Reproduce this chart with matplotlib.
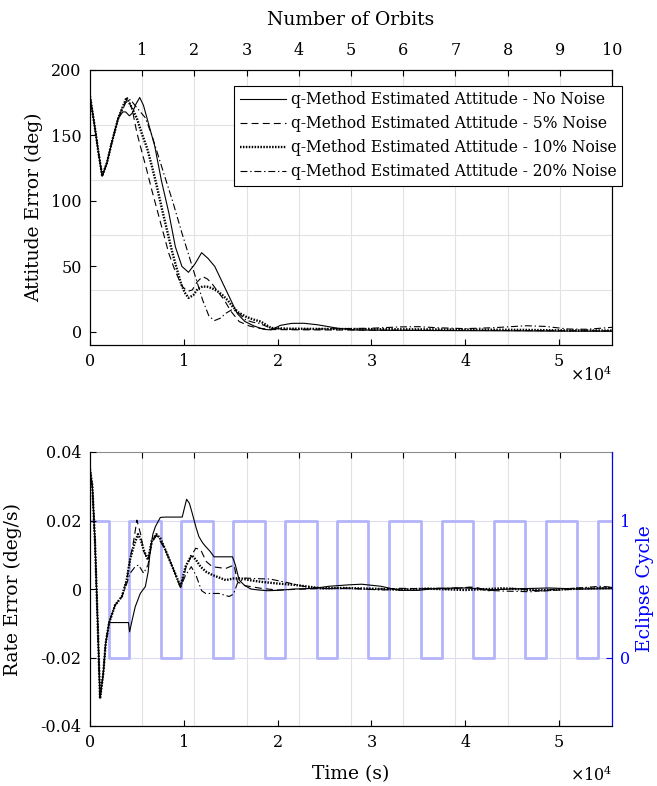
import matplotlib
matplotlib.use('Agg')
import matplotlib.pyplot as plt

plt.rcParams['font.family'] = ['DejaVu Serif']
plt.rcParams['mathtext.fontset'] = 'dejavuserif'
plt.rcParams['axes.unicode_minus'] = False
plt.rcParams['lines.scale_dashes'] = False

# ── Data ──────────────────────────────────────────────────────────────────────
T_END = 55650          # s, = 10 orbits
orbit_ticks = [1, 2, 3, 4, 5, 6, 7, 8, 9, 10]
orbit_labels = ['1', '2', '3', '4', '5', '6', '7', '8', '9', '10']
time_ticks = [0, 10000, 20000, 30000, 40000, 50000]
time_labels = ['0', '1', '2', '3', '4', '5']

series_names = ['q-Method Estimated Attitude - No Noise',
                'q-Method Estimated Attitude - 5% Noise',
                'q-Method Estimated Attitude - 10% Noise',
                'q-Method Estimated Attitude - 20% Noise']

# attitude error (deg)
t_att_0 = [0, 500, 900, 1300, 1800, 2300, 3000, 3500, 3800, 4200, 4500, 4900, 5300, 5700,
           6200, 6900, 7600, 8400, 9100, 9800, 10500, 11200, 11900, 12600, 13300, 14100,
           14900, 15700, 16500, 17500, 18500, 19300, 20300, 21500, 22800, 24300, 26400,
           28200, 32000, 38000, 45000, 50000, 55650]
att_0 = [180, 157, 137, 119, 129, 144, 163, 168, 168, 165, 167, 174, 179, 173,
         160, 142, 116, 91, 65, 50, 45.5, 52, 60.5, 56, 50, 38,
         26, 14, 8, 4.5, 2, 1.5, 5, 6.5, 6.6, 5.4, 2.8,
         1.5, 1.2, 1, 0.8, 0.6, 0.5]

t_att_5 = [0, 500, 900, 1300, 1800, 2300, 3000, 3500, 4000, 4500, 5000, 5400, 6000, 6600,
           7200, 7800, 8400, 9000, 9800, 10400, 10900, 11400, 12000, 12500, 13000, 13600,
           14300, 15000, 15900, 17000, 18000, 19500, 22000, 26000, 32000, 40000, 48000, 55650]
att_5 = [180, 157, 137, 119, 129, 144, 163, 172, 178, 170, 152, 141, 125, 108,
         92, 76, 60, 48, 35, 31, 32, 38, 42.3, 40.5, 37, 31,
         24.5, 16, 7.9, 4.5, 2.8, 1.8, 1.6, 1.5, 1.3, 1.2, 1, 0.8]

t_att_10 = [0, 500, 900, 1300, 1800, 2300, 3000, 3500, 3900, 4400, 5000, 5500, 6100, 6600,
            7100, 7700, 8200, 8800, 9300, 9700, 10100, 10500, 11000, 11500, 12000, 12500,
            13000, 13600, 14100, 14700, 15200, 15800, 16600, 17400, 18200, 19300, 21000,
            24000, 28000, 33000, 40000, 47000, 50000, 55650]
att_10 = [180, 157, 137, 119, 129, 144, 163, 172, 179, 172, 163, 152, 140, 126.5,
          112, 93, 78, 60, 47, 37, 30, 26, 28, 33, 34.7, 34.5,
          33.4, 31, 28.3, 24, 19.4, 15, 11.7, 9.5, 7.9, 3, 2.5,
          2.3, 2.2, 2, 1.8, 1.5, 1.2, 1]

t_att_20 = [0, 500, 900, 1300, 1800, 2300, 3000, 3500, 3800, 4300, 4900, 5900, 6600, 7300,
            8000, 8800, 9800, 10900, 11500, 12000, 12700, 13300, 13900, 14500, 15200, 15900,
            16600, 17300, 18000, 19300, 21000, 24000, 27000, 30000, 33000, 35000, 37000,
            40000, 43000, 46500, 48500, 51000, 53000, 55650]
att_20 = [180, 157, 137, 119, 129, 144, 163, 170, 175, 177.5, 172, 163.5, 150, 134,
          118, 100, 75.5, 50, 36, 24.5, 11.7, 8.7, 10.5, 14.3, 17.3, 14,
          9.2, 7.5, 6.6, 2.8, 2, 2.2, 2.5, 2.8, 3.8, 4, 3.2,
          2.5, 3.2, 4.7, 4.2, 2.2, 2, 3.5]

# rate error (deg/s)
t_rate_0 = [0, 250, 530, 820, 1070, 1420, 1670, 2040, 3000, 4100, 4220, 4500, 4820, 5360,
            5900, 6200, 6430, 6700, 6970, 7500, 8000, 9000, 9830, 10100, 10300, 10600,
            10900, 11300, 11610, 12000, 12330, 12800, 13220, 14000, 15190, 15500, 15900,
            16500, 17150, 18000, 18940, 20000, 21800, 23900, 25500, 27500, 28950, 31000,
            33000, 35000, 37000, 40000, 43000, 46000, 49000, 52000, 55650]
rate_0 = [0.035, 0.03, 0.014, -0.01, -0.032, -0.0245, -0.0159, -0.0098, -0.0098, -0.0098,
          -0.0125, -0.009, -0.0052, -0.0013, 0.0007, 0.005, 0.0114, 0.016, 0.0182, 0.0209,
          0.021, 0.021, 0.021, 0.024, 0.0262, 0.025, 0.0221, 0.018, 0.0153, 0.0135, 0.0124,
          0.011, 0.0094, 0.0094, 0.0094, 0.007, 0.0026, 0.001, 0, -0.0003, -0.0005, -0.0004,
          0, 0.0002, 0.0008, 0.0012, 0.0014, 0.0008, -0.0004, -0.0004, 0.0002, 0.0003,
          -0.0002, 0.0001, 0.0003, 0, 0.0001]

t_rate_5 = [0, 250, 530, 820, 1070, 1420, 1670, 2040, 2680, 3400, 3910, 4260, 4650, 5000,
            5400, 5720, 6180, 6610, 7080, 8040, 8930, 9650, 10300, 11260, 11790, 12400,
            13040, 14470, 15360, 15720, 16500, 18220, 20000, 23000, 27000, 30000, 33000,
            38000, 41000, 42500, 45000, 48000, 52000, 55650]
rate_5 = [0.035, 0.03, 0.014, -0.01, -0.032, -0.0245, -0.0159, -0.0098, -0.0047, -0.0022,
          0.0026, 0.0085, 0.014, 0.0201, 0.016, 0.011, 0.0085, 0.0143, 0.0158, 0.0114,
          0.0055, 0.0005, 0.007, 0.0119, 0.0115, 0.008, 0.0065, 0.006, 0.007, 0.0021,
          0.001, 0.0002, -0.0003, 0, 0.0003, -0.0001, 0.0002, 0, 0.0006, -0.0005, 0.0002,
          -0.0006, 0, 0.0004]

t_rate_10 = [0, 250, 530, 820, 1070, 1420, 1670, 2040, 2680, 3400, 3910, 4260, 4650, 5110,
             5400, 5720, 6180, 6610, 7080, 7500, 8040, 8930, 9650, 10180, 10830, 11300,
             11790, 12400, 13040, 14470, 15360, 16080, 17000, 18220, 20000, 21800, 24660,
             27000, 30000, 33000, 36000, 40000, 44000, 48000, 52000, 55650]
rate_10 = [0.035, 0.03, 0.014, -0.01, -0.032, -0.0245, -0.0159, -0.0098, -0.0047, -0.0022,
           0.0026, 0.0085, 0.0124, 0.016, 0.0145, 0.0114, 0.0085, 0.0143, 0.016, 0.0148,
           0.0114, 0.0055, 0.0007, 0.0065, 0.0099, 0.0085, 0.0065, 0.005, 0.0041, 0.0026,
           0.0031, 0.0031, 0.0026, 0.0021, 0.0016, 0.0012, 0.0002, 0.0003, 0.0001, -0.0002,
           0.0001, -0.0003, 0.0002, -0.0004, 0.0001, 0.0003]

t_rate_20 = [0, 250, 530, 820, 1070, 1420, 1670, 2040, 2680, 3400, 3910, 4260, 4800, 5180,
             5720, 6180, 6610, 7080, 7500, 8040, 8930, 9650, 10180, 10800, 11300, 11900,
             12330, 13760, 14830, 15300, 15720, 16500, 18000, 19200, 21000, 22700, 25000,
             28000, 31000, 34000, 38000, 40500, 42000, 44000, 47000, 49000, 52000, 54500,
             55650]
rate_20 = [0.035, 0.03, 0.014, -0.01, -0.032, -0.0245, -0.0159, -0.0098, -0.0047, -0.0022,
           0.0015, 0.0045, 0.0065, 0.007, 0.0046, 0.007, 0.0135, 0.0156, 0.0145, 0.0114,
           0.0055, 0.0005, 0.004, 0.0065, 0.004, -0.0005, -0.0013, -0.0013, -0.0022,
           -0.0015, 0.0017, 0.0032, 0.003, 0.0029, 0.0019, 0.0008, 0.0001, 0.0002, -0.0003,
           0.0001, 0.0002, 0.0005, -0.0003, -0.0006, -0.0008, -0.0002, 0.0003, 0.0008, 0.0005]

# eclipse entry / exit times (s)
eclipse_start = [2030, 7570, 13110, 18650, 24200, 29670, 35250, 40800, 46370, 51940]
eclipse_end = [4160, 9700, 15240, 20790, 26330, 31910, 37490, 43060, 48610, 54180]

# ── Styles ────────────────────────────────────────────────────────────────────
styles = [dict(ls='-', lw=0.8),
          dict(ls=(0, (5, 3)), lw=0.8),
          dict(ls=(0, (1.1, 1.0)), lw=1.7),
          dict(ls=(0, (5, 2, 1, 2)), lw=0.8)]
GRID = '#e2e2e2'
BLUE = '#0000ff'
ECL = '#b4b4fa'
TICK = 11.5
LAB = 13.5

fig = plt.figure(figsize=(6.57, 7.86), dpi=100)
W, H = 657, 786
pos_top = [90 / W, 1 - 345 / H, 522 / W, 275 / H]
pos_bot = [90 / W, 1 - 726 / H, 522 / W, 274 / H]

# ── Top panel ─────────────────────────────────────────────────────────────────
g1 = fig.add_axes(pos_top, zorder=0)
g1.set_xlim(0, 10)
g1.set_ylim(0, 1)
g1.set_xticks(orbit_ticks)
g1.set_xticklabels(orbit_labels)
g1.xaxis.tick_top()
g1.xaxis.set_label_position('top')
g1.set_xlabel('Number of Orbits', fontsize=LAB, labelpad=12)
g1.set_yticks([0.2, 0.4, 0.6, 0.8])
g1.tick_params(axis='y', length=0, labelleft=False)
g1.tick_params(axis='x', direction='in', length=4, labelsize=TICK, pad=8, width=0.8)
g1.grid(True, color=GRID, lw=0.8)

ax1 = fig.add_axes(pos_top, zorder=1, facecolor='none')
att_t = [t_att_0, t_att_5, t_att_10, t_att_20]
att_v = [att_0, att_5, att_10, att_20]
for t, v, name, st in zip(att_t, att_v, series_names, styles):
    ax1.plot(t, v, color='black', label=name, **st)
ax1.set_xlim(0, T_END)
ax1.set_ylim(-10, 200)
ax1.set_yticks([0, 50, 100, 150, 200])
ax1.set_xticks(time_ticks)
ax1.set_xticklabels(time_labels)
ax1.tick_params(direction='in', length=4, labelsize=TICK, width=0.8, pad=6)
ax1.set_ylabel('Attitude Error (deg)', fontsize=LAB)
ax1.yaxis.set_label_coords(-0.09, 0.5)
ax1.text(1.0, -0.11, r'$\times10^4$', transform=ax1.transAxes, ha='right', va='center',
         fontsize=TICK)
leg = ax1.legend(loc='upper right', bbox_to_anchor=(1.019, 0.942), fontsize=11.2,
                 fancybox=False, edgecolor='black', framealpha=1, handlelength=3.0,
                 handletextpad=0.3, borderpad=0.35, labelspacing=0.45, borderaxespad=0)
leg.get_frame().set_linewidth(0.8)

# ── Bottom panel ──────────────────────────────────────────────────────────────
g2 = fig.add_axes(pos_bot, zorder=0)
g2.set_xlim(0, 10)
g2.set_ylim(-0.04, 0.04)
g2.set_xticks(orbit_ticks)
g2.xaxis.tick_top()
g2.tick_params(axis='x', direction='in', length=4, labeltop=False, width=0.8)
g2.set_yticks([-0.02, 0, 0.02])
g2.tick_params(axis='y', length=0, labelleft=False)
g2.grid(True, axis='x', color=GRID, lw=0.8)
g2.grid(True, axis='y', color='#dcdcf6', lw=0.8)
g2.spines['top'].set_color('#8c8c8c')

axr = fig.add_axes(pos_bot, zorder=0.5, facecolor='none')
ecl_x, ecl_y = [0], [1]
for s, e in zip(eclipse_start, eclipse_end):
    ecl_x += [s, s, e, e]
    ecl_y += [1, 0, 0, 1]
ecl_x.append(T_END)
ecl_y.append(1)
axr.plot(ecl_x, ecl_y, color=ECL, lw=2)
axr.set_xlim(0, T_END)
axr.set_ylim(-0.5, 1.5)
axr.set_xticks([])
axr.yaxis.tick_right()
axr.yaxis.set_label_position('right')
axr.set_yticks([0, 1])
axr.tick_params(axis='y', direction='in', length=4, labelsize=TICK, colors=BLUE, pad=6,
                width=0.8)
axr.set_ylabel('Eclipse Cycle', fontsize=LAB, color=BLUE)
for k in ['top', 'left', 'bottom']:
    axr.spines[k].set_visible(False)
axr.spines['right'].set_color(BLUE)

ax2 = fig.add_axes(pos_bot, zorder=1, facecolor='none')
rate_t = [t_rate_0, t_rate_5, t_rate_10, t_rate_20]
rate_v = [rate_0, rate_5, rate_10, rate_20]
for t, v, st in zip(rate_t, rate_v, styles):
    ax2.plot(t, v, color='black', **st)
ax2.set_xlim(0, T_END)
ax2.set_ylim(-0.04, 0.04)
ax2.set_yticks([-0.04, -0.02, 0, 0.02, 0.04])
ax2.set_yticklabels(['-0.04', '-0.02', '0', '0.02', '0.04'])
ax2.set_xticks(time_ticks)
ax2.set_xticklabels(time_labels)
ax2.tick_params(direction='in', length=4, labelsize=TICK, width=0.8, pad=6)
ax2.spines['top'].set_visible(False)
ax2.spines['right'].set_visible(False)
ax2.set_ylabel('Rate Error (deg/s)', fontsize=LAB)
ax2.yaxis.set_label_coords(-0.13, 0.5)
ax2.set_xlabel('Time (s)', fontsize=LAB, labelpad=10)
ax2.text(1.0, -0.18, r'$\times10^4$', transform=ax2.transAxes, ha='right', va='center',
         fontsize=TICK)

fig.savefig('out.png', dpi=100)
